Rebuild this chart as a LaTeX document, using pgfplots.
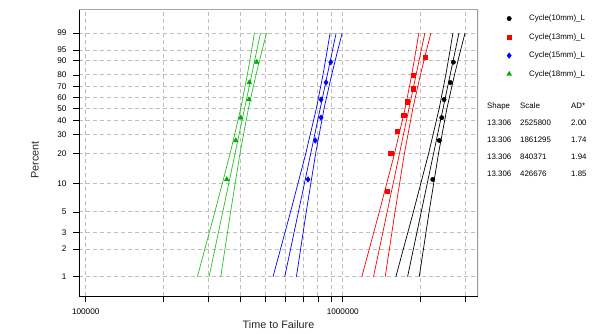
\documentclass[border=0pt]{standalone}
\usepackage{pgfplots}
\pgfplotsset{compat=1.18}
\usepackage{fontspec}
\setmainfont{Liberation Sans}
\definecolor{ggreen}{RGB}{0,170,0}
\definecolor{lgreen}{RGB}{40,190,40}
\definecolor{gridc}{RGB}{190,190,190}
\pgfplotsset{lgimg/.style={legend image code/.code={\path[draw=none,fill=none] (0bp,-2bp) rectangle (28bp,2bp); \draw[mark repeat=2,mark phase=2,##1] plot coordinates {(0bp,0bp) (9bp,0bp) (28bp,0bp)};}}}
\begin{document}
\begin{tikzpicture}
\useasboundingbox (-79bp,-38bp) rectangle (513bp,296bp);
\begin{axis}[
  scale only axis, width=399bp, height=286.3bp,
  at={(0,0)}, anchor=south west,
  xmode=log, xmin=94174, xmax=3360000,
  ymin=-5.0853, ymax=2.1129,
  xtick={100000,200000,300000,400000,500000,600000,700000,800000,900000,1000000,2000000,3000000},
  xticklabels={100000,,,,,,,,,1000000,,},
  ytick={-4.60015,-3.90194,-3.49137,-2.97020,-2.25037,-1.49994,-1.03093,-0.67172,-0.36651,-0.08742,0.18563,0.47588,0.83403,1.09719,1.52718},
  yticklabels={1,2,3,5,10,20,30,40,50,60,70,80,90,95,99},
  grid=major,
  major grid style={gridc, line width=0.8bp, dash pattern=on 4bp off 3bp},
  tick pos=left, tick align=outside, major tick length=6bp,
  tick style={black, line width=0.6bp},
  axis line style={draw=none},
  ticklabel style={font=\fontsize{8.2bp}{9bp}\selectfont},
  yticklabel style={xshift=-3bp},
  xticklabel style={yshift=-3bp},
  xlabel={Time to Failure}, ylabel={Percent},
  label style={font=\fontsize{10.8bp}{12bp}\selectfont, text=black!85},
  xlabel style={at={(axis description cs:0.5,-0.1013)}, anchor=center},
  ylabel style={at={(axis description cs:-0.1103,0.475)}, anchor=center},
  legend style={at={(axis description cs:1.0551,0.986)}, anchor=north west,
    draw=none, fill=none, font=\fontsize{7.9bp}{9bp}\selectfont,
    inner sep=0pt, row sep=9.2bp, cells={anchor=west},
    nodes={inner sep=1bp, text height=5.7bp, text depth=1.6bp}},
]
% ---- fitted lines and confidence bands ----
% 10mm (black)
\addplot[forget plot, black, line width=0.7bp] coordinates {(1787610,-4.60015) (2832962,1.52718)};
\addplot[forget plot, black, line width=0.7bp] coordinates {(1609768,-4.60015) (1883060,-2.97020) (2158928,-1.49994) (2373696,-0.36651) (2517970,0.47588) (2616501,1.09719) (2682955,1.52718)};
\addplot[forget plot, black, line width=0.7bp] coordinates {(1985001,-4.60015) (2167945,-2.97020) (2358516,-1.49994) (2543582,-0.36651) (2721524,0.47588) (2875421,1.09719) (2991381,1.52718)};
% 13mm (red)
\addplot[forget plot, red, line width=0.7bp] coordinates {(1317313,-4.60015) (2087647,1.52718)};
\addplot[forget plot, red, line width=0.7bp] coordinates {(1186259,-4.60015) (1387651,-2.97020) (1590942,-1.49994) (1749208,-0.36651) (1855525,0.47588) (1928134,1.09719) (1977105,1.52718)};
\addplot[forget plot, red, line width=0.7bp] coordinates {(1462773,-4.60015) (1597587,-2.97020) (1738021,-1.49994) (1874399,-0.36651) (2005527,0.47588) (2118935,1.09719) (2204388,1.52718)};
% 15mm (blue)
\addplot[forget plot, blue, line width=0.7bp] coordinates {(594764,-4.60015) (942569,1.52718)};
\addplot[forget plot, blue, line width=0.7bp] coordinates {(535594,-4.60015) (626522,-2.97020) (718307,-1.49994) (789764,-0.36651) (837766,0.47588) (870549,1.09719) (892659,1.52718)};
\addplot[forget plot, blue, line width=0.7bp] coordinates {(660439,-4.60015) (721307,-2.97020) (784713,-1.49994) (846287,-0.36651) (905491,0.47588) (956695,1.09719) (995276,1.52718)};
% 18mm (green)
\addplot[forget plot, lgreen, line width=0.7bp] coordinates {(301976,-4.60015) (478564,1.52718)};
\addplot[forget plot, lgreen, line width=0.7bp] coordinates {(271934,-4.60015) (318100,-2.97020) (364702,-1.49994) (400982,-0.36651) (425353,0.47588) (441998,1.09719) (453224,1.52718)};
\addplot[forget plot, lgreen, line width=0.7bp] coordinates {(335320,-4.60015) (366225,-2.97020) (398417,-1.49994) (429680,-0.36651) (459739,0.47588) (485736,1.09719) (505325,1.52718)};
% ---- data points ----
\addplot[only marks, lgimg, mark=*, mark size=2.2bp, black] coordinates {(2240000,-2.15537) (2376000,-1.17545) (2428000,-0.60147) (2479000,-0.14736) (2623000,0.28199) (2694000,0.79424)};
\addlegendentry{Cycle(10mm)\_L}
\addplot[only marks, lgimg, mark=square*, mark size=2.1bp, red] coordinates {(1484000,-2.44172) (1538000,-1.48668) (1632000,-0.94735) (1728000,-0.54357) (1784000,-0.19857) (1882000,0.12661) (1882000,0.46850) (2090000,0.91025)};
\addlegendentry{Cycle(13mm)\_L}
\addplot[only marks, lgimg, mark=diamond*, mark size=2.8bp, blue] coordinates {(732900,-2.15537) (782300,-1.17545) (823300,-0.60147) (823300,-0.14736) (861000,0.28199) (898300,0.79424)};
\addlegendentry{Cycle(15mm)\_L}
\addplot[only marks, lgimg, mark=triangle*, mark size=2.8bp, ggreen] coordinates {(353800,-2.15537) (383500,-1.17545) (401000,-0.60147) (431900,-0.14736) (433000,0.28199) (462900,0.79424)};
\addlegendentry{Cycle(18mm)\_L}
% frame
\draw[black, line width=0.8bp] (rel axis cs:0,1) -- (rel axis cs:0,0) -- (rel axis cs:1,0);
\draw[gray!70, line width=0.8bp] (rel axis cs:0,1) -- (rel axis cs:1,1);
\draw[gray!80, line width=1.6bp] (rel axis cs:1,1) -- (rel axis cs:1,0);
\end{axis}
\begin{scope}[every node/.style={anchor=west, inner sep=0pt, font=\fontsize{7.9bp}{9bp}\selectfont}]
\node at (408bp,190bp) {Shape};
\node at (441bp,190bp) {Scale};
\node at (492bp,190bp) {AD*};
\node at (408bp,173bp) {13.306};
\node at (441bp,173bp) {2525800};
\node at (492bp,173bp) {2.00};
\node at (408bp,156bp) {13.306};
\node at (441bp,156bp) {1861295};
\node at (492bp,156bp) {1.74};
\node at (408bp,139bp) {13.306};
\node at (441bp,139bp) {840371};
\node at (492bp,139bp) {1.94};
\node at (408bp,122bp) {13.306};
\node at (441bp,122bp) {426676};
\node at (492bp,122bp) {1.85};
\end{scope}
\end{tikzpicture}
\end{document}
